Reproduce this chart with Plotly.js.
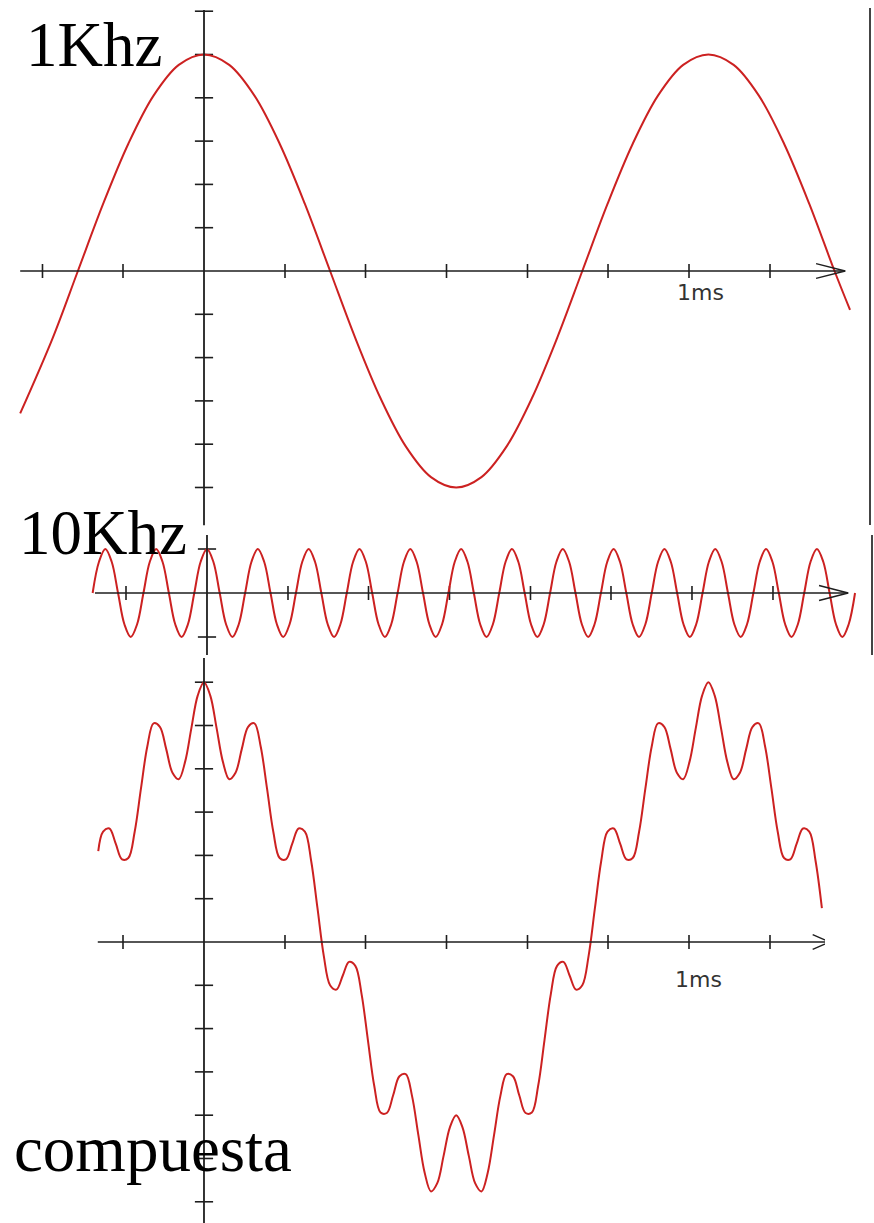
<!DOCTYPE html>
<html><head><meta charset="utf-8">
<script src="https://cdn.plot.ly/plotly-3.0.1.min.js"></script>
<style>html,body{margin:0;padding:0;background:#fff;}#chart{width:874px;height:1223px;}</style>
</head><body><div id="chart"></div>
<script>
// ---- data (time in ms, amplitude in tick divisions) ----
const t1k = [-0.379,-0.312,-0.260,-0.208,-0.156,-0.104,-0.052,0,0.052,0.104,0.156,0.208,0.260,0.312,0.364,0.416,0.468,0.520,0.572,0.624,0.676,0.728,0.780,0.832,0.884,0.936,0.988,1.040,1.092,1.144,1.196,1.248,1.300,1.332];
const v1k = [-3.29,-1.55,0,1.55,2.94,4.05,4.76,5,4.76,4.05,2.94,1.55,0,-1.55,-2.94,-4.05,-4.76,-5,-4.76,-4.05,-2.94,-1.55,0,1.55,2.94,4.05,4.76,5,4.76,4.05,2.94,1.55,0,-0.9];

const t10k = [-0.2358,-0.2227,-0.2096,-0.1965,-0.1834,-0.1703,-0.1572,-0.1441,-0.1310,-0.1179,-0.1048,-0.0917,-0.0786,-0.0655,-0.0524,-0.0393,-0.0262,-0.0131,0,
0.0131,0.0262,0.0393,0.0524,0.0655,0.0786,0.0917,0.1048,0.1179,0.1310,0.1441,0.1572,0.1703,0.1834,0.1965,0.2096,0.2227,0.2358,0.2489,0.2620,
0.2751,0.2882,0.3013,0.3144,0.3275,0.3406,0.3537,0.3668,0.3799,0.3930,0.4061,0.4192,0.4323,0.4454,0.4585,0.4716,0.4847,0.4978,0.5109,0.5240,
0.5371,0.5502,0.5633,0.5764,0.5895,0.6026,0.6157,0.6288,0.6419,0.6550,0.6681,0.6812,0.6943,0.7074,0.7205,0.7336,0.7467,0.7598,0.7729,0.7860,
0.7991,0.8122,0.8253,0.8384,0.8515,0.8646,0.8777,0.8908,0.9039,0.9170,0.9301,0.9432,0.9563,0.9694,0.9825,0.9956,1.0087,1.0218,1.0349,1.0480,
1.0611,1.0742,1.0873,1.1004,1.1135,1.1266,1.1397,1.1528,1.1659,1.1790,1.1921,1.2052,1.2183,1.2314,1.2445,1.2576,1.2707,1.2838,1.2969,1.3100,
1.3231,1.3362];
const v10k = [0,
0.71,1,0.71,0,-0.71,-1,-0.71,0, 0.71,1,0.71,0,-0.71,-1,-0.71,0, 0.71,1,0.71,0,-0.71,-1,-0.71,0,
0.71,1,0.71,0,-0.71,-1,-0.71,0, 0.71,1,0.71,0,-0.71,-1,-0.71,0, 0.71,1,0.71,0,-0.71,-1,-0.71,0,
0.71,1,0.71,0,-0.71,-1,-0.71,0, 0.71,1,0.71,0,-0.71,-1,-0.71,0, 0.71,1,0.71,0,-0.71,-1,-0.71,0,
0.71,1,0.71,0,-0.71,-1,-0.71,0, 0.71,1,0.71,0,-0.71,-1,-0.71,0, 0.71,1,0.71,0,-0.71,-1,-0.71,0,
0.71,1,0.71,0,-0.71,-1,-0.71,0, 0.71,1,0.71,0,-0.71,-1,-0.71,0, 0.71,1,0.71,0,-0.71,-1,-0.71,0];

const tSum = [-0.218,-0.208,-0.195,-0.182,-0.169,-0.156,-0.143,-0.130,-0.117,-0.104,-0.091,-0.078,-0.065,-0.052,-0.039,-0.026,-0.013,0,
0.013,0.026,0.039,0.052,0.065,0.078,0.091,0.104,0.117,0.130,0.143,0.156,0.169,0.182,0.195,0.208,0.221,0.234,0.247,0.260,
0.273,0.286,0.299,0.312,0.325,0.338,0.351,0.364,0.377,0.390,0.403,0.416,0.429,0.442,0.455,0.468,0.481,0.494,0.507,0.520,
0.533,0.546,0.559,0.572,0.585,0.598,0.611,0.624,0.637,0.650,0.663,0.676,0.689,0.702,0.715,0.728,0.741,0.754,0.767,0.780,
0.793,0.806,0.819,0.832,0.845,0.858,0.871,0.884,0.897,0.910,0.923,0.936,0.949,0.962,0.975,0.988,1.001,1.014,1.027,1.040,
1.053,1.066,1.079,1.092,1.105,1.118,1.131,1.144,1.157,1.170,1.183,1.196,1.209,1.222,1.235,1.248,1.261,1.274];
const vSum = [2.1,2.55,2.62,2.27,1.91,1.94,2.54,3.54,4.51,5.05,4.97,4.46,3.91,3.76,4.16,4.94,5.69,6,
5.69,4.94,4.16,3.76,3.91,4.46,4.97,5.05,4.51,3.54,2.54,1.94,1.91,2.27,2.62,2.55,1.87,0.78,-0.32,-1,
-1.10,-0.78,-0.46,-0.55,-1.21,-2.27,-3.32,-3.94,-3.95,-3.54,-3.10,-3.05,-3.56,-4.46,-5.33,-5.76,-5.57,-4.94,-4.28,-4,
-4.28,-4.94,-5.57,-5.76,-5.33,-4.46,-3.56,-3.05,-3.10,-3.54,-3.95,-3.94,-3.32,-2.27,-1.21,-0.55,-0.46,-0.78,-1.10,-1,
-0.32,0.78,1.87,2.55,2.62,2.27,1.91,1.94,2.54,3.54,4.51,5.05,4.97,4.46,3.91,3.76,4.16,4.94,5.69,6,
5.69,4.94,4.16,3.76,3.91,4.46,4.97,5.05,4.51,3.54,2.54,1.94,1.91,2.27,2.62,2.55,1.87,0.78];

const xTicks = [-0.333,-0.167,0.167,0.333,0.5,0.667,0.833,1,1.167];
const yTicks1 = [-5,-4,-3,-2,-1,1,2,3,4,5,6];
const yTicks2 = [-1,1];
const yTicks3 = [-6,-5,-4,-3,-2,-1,1,2,3,4,5,6];
const panelTitles = ['1Khz','10Khz','compuesta'];
const unitLabel = '1ms';

// ---- styling / geometry ----
const WAVE = '#cc2121', AXIS = '#1e1e1e';
const panels = [
  {xa:'x',  ya:'y',  xExt:[-0.379,1.322], yExt:[-5.87,6.03], back:1.262, h:0.17, yTicks:yTicks1, xMin:-0.379},
  {xa:'x2', ya:'y2', xExt:[-0.231,1.322], yExt:[-1.41,1.32], back:1.262, h:0.17, yTicks:yTicks2, xMin:-0.231},
  {xa:'x3', ya:'y3', xExt:[-0.219,1.29],  yExt:[-6.49,6.56], back:1.255, h:0.17, yTicks:yTicks3, xMin:-0.219}
];

const traces = [];
const shapes = [];
panels.forEach(p => {
  shapes.push({type:'line', xref:p.xa, yref:p.ya, x0:p.xExt[0], x1:p.xExt[1], y0:0, y1:0, line:{color:AXIS, width:1.6}});
  shapes.push({type:'line', xref:p.xa, yref:p.ya, x0:0, x1:0, y0:p.yExt[0], y1:p.yExt[1], line:{color:AXIS, width:1.8}});
  shapes.push({type:'path', xref:p.xa, yref:p.ya,
    path:`M ${p.back},${p.h} L ${p.xExt[1]},0 L ${p.back},${-p.h}`, line:{color:AXIS, width:1.4}});
  const xt = xTicks.filter(v => v > p.xMin);
  traces.push({type:'scatter', mode:'markers', xaxis:p.xa, yaxis:p.ya, x:xt, y:xt.map(()=>0), hoverinfo:'skip',
    marker:{symbol:'line-ns', size:10, color:AXIS, line:{width:1.6, color:AXIS}}});
  traces.push({type:'scatter', mode:'markers', xaxis:p.xa, yaxis:p.ya, x:p.yTicks.map(()=>0), y:p.yTicks, hoverinfo:'skip',
    marker:{symbol:'line-ew', size:13, color:AXIS, line:{width:1.6, color:AXIS}}});
});

const waves = [[t1k,v1k,'x','y'],[t10k,v10k,'x2','y2'],[tSum,vSum,'x3','y3']];
waves.forEach(([x,y,xa,ya]) => traces.push({type:'scatter', mode:'lines', x, y, xaxis:xa, yaxis:ya,
  line:{color:WAVE, width:2, shape:'spline', smoothing:1}, hoverinfo:'skip'}));

// right-hand border strokes
shapes.push({type:'line', xref:'paper', yref:'paper', x0:870/874, x1:870/874, y0:1-8/1223, y1:1-525/1223, line:{color:'#444', width:2}});
shapes.push({type:'line', xref:'paper', yref:'paper', x0:872/874, x1:872/874, y0:1-535/1223, y1:1-655/1223, line:{color:'#444', width:2}});

const serifFam = '"Liberation Serif", "Times New Roman", serif';
const sans = {family:'"DejaVu Sans", Arial, sans-serif', size:22, color:'#333'};
const annotations = [
  {text:panelTitles[0], xref:'paper', yref:'paper', x:24/874, y:1-45/1223, xanchor:'left', yanchor:'middle', showarrow:false, font:{family:serifFam, size:63, color:'#000'}},
  {text:panelTitles[1], xref:'paper', yref:'paper', x:17/874, y:1-533/1223, xanchor:'left', yanchor:'middle', showarrow:false, font:{family:serifFam, size:63, color:'#000'}},
  {text:panelTitles[2], xref:'paper', yref:'paper', x:12/874, y:1-1149/1223, xanchor:'left', yanchor:'middle', showarrow:false, font:{family:serifFam, size:65, color:'#000'}},
  {text:unitLabel, xref:'x', yref:'y', x:1.023, y:-0.49, showarrow:false, font:sans},
  {text:unitLabel, xref:'x3', yref:'y3', x:1.019, y:-0.87, showarrow:false, font:sans}
];

const hidden = {visible:false, fixedrange:true, showgrid:false, zeroline:false};
const layout = {
  width:874, height:1223, margin:{l:0,r:0,t:0,b:0}, showlegend:false,
  paper_bgcolor:'#fff', plot_bgcolor:'rgba(0,0,0,0)',
  xaxis: Object.assign({domain:[0,1], range:[-0.4206,1.3814]}, hidden),
  yaxis: Object.assign({domain:[1-530/1223,1], range:[-5.982,6.259]}, hidden),
  xaxis2: Object.assign({domain:[0,1], range:[-0.4268,1.3753], anchor:'y2'}, hidden),
  yaxis2: Object.assign({domain:[1-658/1223,1-530/1223], range:[-1.477,1.432], anchor:'x2'}, hidden),
  xaxis3: Object.assign({domain:[0,825/874], range:[-0.4206,1.2804], anchor:'y3'}, hidden),
  yaxis3: Object.assign({domain:[0,1-658/1223], range:[-6.490,6.559], anchor:'x3'}, hidden),
  shapes, annotations
};
Plotly.newPlot('chart', traces, layout, {staticPlot:true, displayModeBar:false});
</script></body></html>
